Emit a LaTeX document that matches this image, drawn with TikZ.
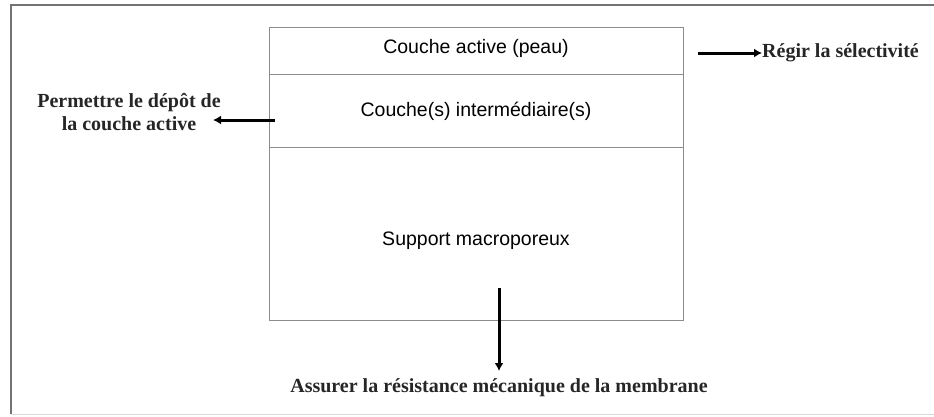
\documentclass[tikz,border=0pt]{standalone}
\usepackage{fontspec}
\setmainfont{Liberation Serif}
\newfontfamily\layerfont{Liberation Sans}
\usetikzlibrary{arrows.meta}
\begin{document}
\begin{tikzpicture}[x=1pt,y=-1pt,
  frame/.style={draw=black!55,line width=1.6pt},
  layerline/.style={draw=black!45,line width=0.9pt},
  layertext/.style={font=\layerfont\fontsize{19.5}{23}\selectfont,inner sep=0pt},
  roletext/.style={font=\fontsize{20}{23}\selectfont\bfseries,inner sep=0pt,text=black!85},
  rolearrow/.style={draw=black,line width=3pt,-{Latex[length=8pt,width=9pt]}}]
  \useasboundingbox (0,0) rectangle (934,416);
  % outer frame (top and left edges)
  \draw[frame] (11,414) -- (11,5) -- (934,5);
  \draw[draw=black!15,line width=0.8pt] (11,414) -- (934,414);
  % membrane layers
  \draw[layerline] (269,27) rectangle (683,320);
  \draw[layerline] (269,74) -- (683,74);
  \draw[layerline] (269,147) -- (683,147);
  \node[layertext] (peau) at (476,48) {Couche active (peau)};
  \node[layertext] (inter) at (476,111) {Couche(s) intermédiaire(s)};
  \node[layertext] (support) at (476,241) {Support macroporeux};
  % roles of each layer
  \coordinate (pa) at (698,53);
  \node[roletext,anchor=west] (sel) at (762,53) {Régir la sélectivité};
  \coordinate (ia) at (275,120);
  \node[roletext,align=center] (dep) at (129,112) {Permettre le dépôt de\\la couche active};
  \coordinate (sa) at (499,288);
  \node[roletext] (meca) at (499,388) {Assurer la résistance mécanique de la membrane};
  \draw[rolearrow] (pa) -- (sel.west);
  \draw[rolearrow] (ia) -- (213,120);
  \draw[rolearrow] (sa) -- (499,371);
\end{tikzpicture}
\end{document}
